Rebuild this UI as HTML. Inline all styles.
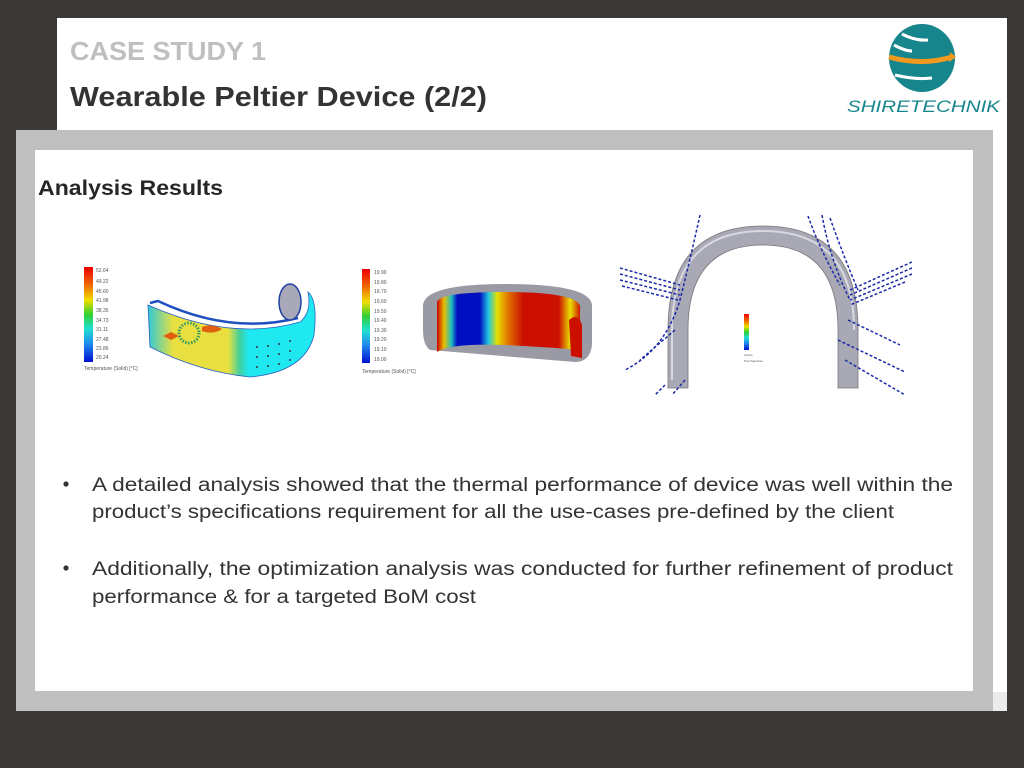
<!DOCTYPE html>
<html><head><meta charset="utf-8"><style>
html,body{margin:0;padding:0;background:#3a3937;}
svg{display:block}
</style></head><body>
<svg width="1024" height="768" viewBox="0 0 1024 768" xmlns="http://www.w3.org/2000/svg" font-family="Liberation Sans, sans-serif">
<defs>
<linearGradient id="b2" x1="0" y1="0" x2="1" y2="0">
<stop offset="0" stop-color="#c00"/><stop offset="0.05" stop-color="#e8c000"/><stop offset="0.1" stop-color="#20c0c0"/><stop offset="0.14" stop-color="#0010c0"/><stop offset="0.3" stop-color="#0010c0"/><stop offset="0.36" stop-color="#20c8e0"/><stop offset="0.42" stop-color="#e8e000"/><stop offset="0.5" stop-color="#e07000"/><stop offset="0.6" stop-color="#cc1000"/><stop offset="0.85" stop-color="#cc1000"/><stop offset="0.93" stop-color="#e8e000"/><stop offset="1" stop-color="#cc1000"/>
</linearGradient>
<linearGradient id="b1" x1="0" y1="0" x2="1" y2="0">
<stop offset="0" stop-color="#30c8d8"/><stop offset="0.15" stop-color="#e8e040"/><stop offset="0.48" stop-color="#e8e040"/><stop offset="0.55" stop-color="#40d0a0"/><stop offset="0.6" stop-color="#20e8f0"/><stop offset="1" stop-color="#20e8f0"/>
</linearGradient>
<linearGradient id="leg" x1="0" y1="0" x2="0" y2="1">
<stop offset="0" stop-color="#e00"/><stop offset="0.2" stop-color="#f07000"/><stop offset="0.35" stop-color="#f0e000"/><stop offset="0.5" stop-color="#30d030"/><stop offset="0.65" stop-color="#20e0d0"/><stop offset="0.8" stop-color="#2090f0"/><stop offset="1" stop-color="#0010d0"/>
</linearGradient>
</defs>
<rect x="57" y="18" width="950" height="674" fill="#fff"/>
<rect x="993" y="692" width="14" height="19" fill="#ebebeb"/>
<rect x="16" y="130" width="977" height="581" fill="#bfbfbf"/>
<rect x="35" y="150" width="938" height="541" fill="#fff"/>
<text x="70" y="60" font-size="26" font-weight="bold" fill="#bfbfbf" textLength="196" lengthAdjust="spacingAndGlyphs">CASE STUDY 1</text>
<text x="70" y="106" font-size="28" font-weight="bold" fill="#333" textLength="417" lengthAdjust="spacingAndGlyphs">Wearable Peltier Device (2/2)</text>
<!-- logo -->
<ellipse cx="922" cy="58" rx="33" ry="34" fill="#17868c"/>
<path d="M889 57 Q922 66 952 57" stroke="#f39a1e" stroke-width="5" fill="none"/>
<path d="M950 52 L956 57 L949 62 Z" fill="#f39a1e"/>
<path d="M902 34 Q915 41 928 40" stroke="#fff" stroke-width="3" fill="none"/>
<path d="M894 45 Q905 51 912 51" stroke="#fff" stroke-width="3" fill="none"/>
<path d="M895 75 Q915 80 932 78" stroke="#fff" stroke-width="3" fill="none"/>
<text x="847" y="112" font-size="17" font-style="italic" fill="#17868c" textLength="153" lengthAdjust="spacingAndGlyphs">SHIRETECHNIK</text>
<text x="38" y="195" font-size="21" font-weight="bold" fill="#262626" textLength="185" lengthAdjust="spacingAndGlyphs">Analysis Results</text>
<!-- image 1 -->
<rect x="84" y="267" width="9" height="95" fill="url(#leg)"/>
<g font-size="5" fill="#555">
<text x="96" y="272">52.64</text><text x="96" y="283">49.22</text><text x="96" y="293">45.60</text><text x="96" y="302">41.98</text><text x="96" y="312">38.35</text><text x="96" y="322">34.73</text><text x="96" y="331">31.11</text><text x="96" y="341">27.48</text><text x="96" y="350">23.86</text><text x="96" y="359">20.24</text>
<text x="84" y="370">Temperature (Solid) [°C]</text></g>
<path d="M148 305 Q230 342 300 322 Q312 312 308 292 Q318 300 314 335 Q305 372 250 377 Q200 372 150 347 Z" fill="url(#b1)" stroke="#2a60c0" stroke-width="0.8"/>
<path d="M150 303 L158 301 Q230 335 298 318" stroke="#2050c0" stroke-width="2.5" fill="none"/>
<ellipse cx="290" cy="302" rx="11" ry="18" fill="#a8a8b8" stroke="#2040a0" stroke-width="1.5"/>
<ellipse cx="189" cy="333" rx="10" ry="10" fill="none" stroke="#3a9a60" stroke-width="3" stroke-dasharray="1.5 1.5"/>
<path d="M163 336 l8 -4 l8 4 l-8 4z M202 327 q10 -4 20 2 q-8 6 -20 2z" fill="#e06010"/>
<g fill="#334">
<circle cx="257" cy="347" r="1"/><circle cx="268" cy="346" r="1"/><circle cx="279" cy="344" r="1"/><circle cx="290" cy="341" r="1"/>
<circle cx="257" cy="357" r="1"/><circle cx="268" cy="356" r="1"/><circle cx="279" cy="354" r="1"/><circle cx="290" cy="351" r="1"/>
<circle cx="257" cy="367" r="1"/><circle cx="268" cy="366" r="1"/><circle cx="279" cy="364" r="1"/><circle cx="290" cy="360" r="1"/></g>
<!-- image 2 -->
<rect x="362" y="269" width="8" height="94" fill="url(#leg)"/>
<g font-size="5" fill="#555">
<text x="374" y="274">19.90</text><text x="374" y="284">19.80</text><text x="374" y="293">19.70</text><text x="374" y="303">19.60</text><text x="374" y="313">19.50</text><text x="374" y="322">19.40</text><text x="374" y="332">19.30</text><text x="374" y="341">19.20</text><text x="374" y="351">19.10</text><text x="374" y="361">19.00</text>
<text x="362" y="373">Temperature (Solid) [°C]</text></g>
<path d="M423 305 Q425 284 505 284 Q590 284 592 305 L592 345 Q590 362 575 362 L430 350 Q423 345 423 330 Z" fill="#9a9aa4"/>
<path d="M437 302 Q440 292 505 292 Q585 292 580 310 L580 350 Q560 348 505 345 Q450 343 437 352 Z" fill="url(#b2)"/>
<path d="M569 320 Q578 312 582 325 L582 358 L571 356 Z" fill="#cc1000"/>
<!-- image 3 -->
<path d="M668 388 L668 330 Q668 226 763 226 Q858 226 858 330 L858 388 L838 388 L838 330 Q838 245 763 245 Q688 245 688 330 L688 388 Z" fill="#a9a9b5" stroke="#777" stroke-width="0.8"/>
<path d="M672 380 L672 330 Q672 231 763 231 Q854 231 854 330" fill="none" stroke="#d8d8e0" stroke-width="2"/>
<g stroke="#1a2aa8" stroke-width="1.5" stroke-dasharray="3 2" fill="none">
<path d="M620 268 L680 285"/><path d="M620 274 L680 290"/><path d="M620 280 L680 295"/><path d="M622 286 L678 300"/>
<path d="M912 262 L850 290"/><path d="M912 268 L850 295"/><path d="M912 274 L850 300"/><path d="M905 282 L850 305"/>
<path d="M700 215 Q690 260 680 300 Q665 350 625 370"/><path d="M675 330 L640 360"/>
<path d="M808 216 Q820 250 840 285"/><path d="M822 215 Q830 260 850 300"/><path d="M830 218 Q845 260 858 290"/>
<path d="M838 340 L905 372"/><path d="M845 360 L905 395"/><path d="M848 320 L900 345"/>
<path d="M665 385 L655 395"/><path d="M685 380 L672 395"/>
</g>
<rect x="744" y="314" width="5" height="36" fill="url(#leg)"/>
<g font-size="2.5" fill="#555"><text x="744" y="356">Velocity</text><text x="744" y="362">Flow Trajectories</text></g>
<!-- bullets -->
<g font-size="19" fill="#333">
<circle cx="66" cy="484" r="2.6"/>
<text x="92" y="491" textLength="861" lengthAdjust="spacingAndGlyphs">A detailed analysis showed that the thermal performance of device was well within the</text>
<text x="92" y="518" textLength="802" lengthAdjust="spacingAndGlyphs">product’s specifications requirement for all the use-cases pre-defined by the client</text>
<circle cx="66" cy="568" r="2.6"/>
<text x="92" y="575" textLength="861" lengthAdjust="spacingAndGlyphs">Additionally, the optimization analysis was conducted for further refinement of product</text>
<text x="92" y="603" textLength="384" lengthAdjust="spacingAndGlyphs">performance &amp; for a targeted BoM cost</text>
</g>
</svg>
</body></html>
